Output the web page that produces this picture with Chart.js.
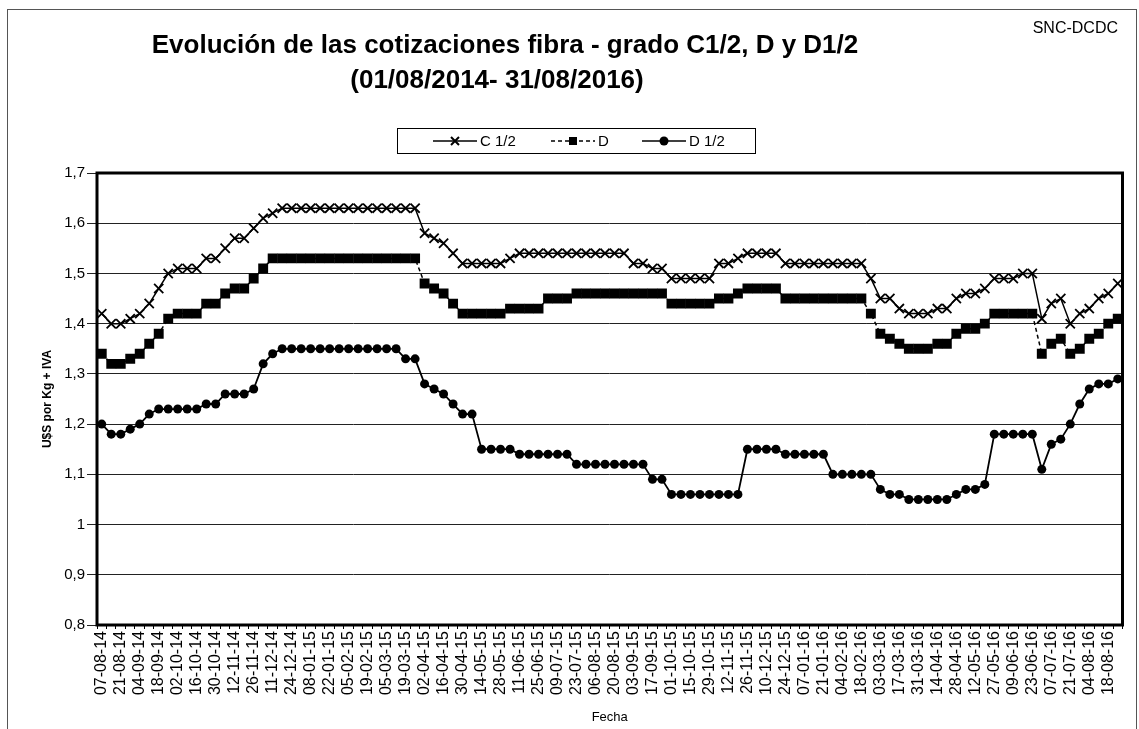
<!DOCTYPE html>
<html>
<head>
<meta charset="utf-8">
<script src="https://cdn.jsdelivr.net/npm/chart.js@4.4.1/dist/chart.umd.min.js"></script>
<style>
  html, body { margin: 0; padding: 0; background: #fff; }
  #wrap { width: 1139px; height: 729px; }
</style>
</head>
<body>
<div id="wrap"><canvas id="grafico" width="1139" height="729"></canvas></div>
<script>
// fechas semanales (se rotula una de cada dos)
const fechas = [
  '07-08-14','14-08-14','21-08-14','28-08-14','04-09-14','11-09-14','18-09-14','25-09-14',
  '02-10-14','09-10-14','16-10-14','23-10-14','30-10-14','06-11-14','12-11-14','19-11-14',
  '26-11-14','03-12-14','11-12-14','18-12-14','24-12-14','31-12-14','08-01-15','15-01-15',
  '22-01-15','29-01-15','05-02-15','12-02-15','19-02-15','26-02-15','05-03-15','12-03-15',
  '19-03-15','26-03-15','02-04-15','09-04-15','16-04-15','23-04-15','30-04-15','07-05-15',
  '14-05-15','21-05-15','28-05-15','04-06-15','11-06-15','18-06-15','25-06-15','02-07-15',
  '09-07-15','16-07-15','23-07-15','30-07-15','06-08-15','13-08-15','20-08-15','27-08-15',
  '03-09-15','10-09-15','17-09-15','24-09-15','01-10-15','08-10-15','15-10-15','22-10-15',
  '29-10-15','05-11-15','12-11-15','19-11-15','26-11-15','03-12-15','10-12-15','17-12-15',
  '24-12-15','31-12-15','07-01-16','14-01-16','21-01-16','28-01-16','04-02-16','11-02-16',
  '18-02-16','25-02-16','03-03-16','10-03-16','17-03-16','24-03-16','31-03-16','07-04-16',
  '14-04-16','21-04-16','28-04-16','05-05-16','12-05-16','19-05-16','27-05-16','02-06-16',
  '09-06-16','16-06-16','23-06-16','30-06-16','07-07-16','14-07-16','21-07-16','28-07-16',
  '04-08-16','11-08-16','18-08-16','25-08-16'
];

const c12 = [
  1.42,1.40,1.40,1.41,1.42,1.44,1.47,1.50,1.51,1.51,1.51,1.53,1.53,1.55,1.57,1.57,
  1.59,1.61,1.62,1.63,1.63,1.63,1.63,1.63,1.63,1.63,1.63,1.63,1.63,1.63,1.63,1.63,
  1.63,1.63,1.58,1.57,1.56,1.54,1.52,1.52,1.52,1.52,1.52,1.53,1.54,1.54,1.54,1.54,
  1.54,1.54,1.54,1.54,1.54,1.54,1.54,1.54,1.52,1.52,1.51,1.51,1.49,1.49,1.49,1.49,
  1.49,1.52,1.52,1.53,1.54,1.54,1.54,1.54,1.52,1.52,1.52,1.52,1.52,1.52,1.52,1.52,
  1.52,1.49,1.45,1.45,1.43,1.42,1.42,1.42,1.43,1.43,1.45,1.46,1.46,1.47,1.49,1.49,
  1.49,1.50,1.50,1.41,1.44,1.45,1.40,1.42,1.43,1.45,1.46,1.48
];

const gradoD = [
  1.34,1.32,1.32,1.33,1.34,1.36,1.38,1.41,1.42,1.42,1.42,1.44,1.44,1.46,1.47,1.47,
  1.49,1.51,1.53,1.53,1.53,1.53,1.53,1.53,1.53,1.53,1.53,1.53,1.53,1.53,1.53,1.53,
  1.53,1.53,1.48,1.47,1.46,1.44,1.42,1.42,1.42,1.42,1.42,1.43,1.43,1.43,1.43,1.45,
  1.45,1.45,1.46,1.46,1.46,1.46,1.46,1.46,1.46,1.46,1.46,1.46,1.44,1.44,1.44,1.44,
  1.44,1.45,1.45,1.46,1.47,1.47,1.47,1.47,1.45,1.45,1.45,1.45,1.45,1.45,1.45,1.45,
  1.45,1.42,1.38,1.37,1.36,1.35,1.35,1.35,1.36,1.36,1.38,1.39,1.39,1.40,1.42,1.42,
  1.42,1.42,1.42,1.34,1.36,1.37,1.34,1.35,1.37,1.38,1.40,1.41
];

const d12 = [
  1.20,1.18,1.18,1.19,1.20,1.22,1.23,1.23,1.23,1.23,1.23,1.24,1.24,1.26,1.26,1.26,
  1.27,1.32,1.34,1.35,1.35,1.35,1.35,1.35,1.35,1.35,1.35,1.35,1.35,1.35,1.35,1.35,
  1.33,1.33,1.28,1.27,1.26,1.24,1.22,1.22,1.15,1.15,1.15,1.15,1.14,1.14,1.14,1.14,
  1.14,1.14,1.12,1.12,1.12,1.12,1.12,1.12,1.12,1.12,1.09,1.09,1.06,1.06,1.06,1.06,
  1.06,1.06,1.06,1.06,1.15,1.15,1.15,1.15,1.14,1.14,1.14,1.14,1.14,1.10,1.10,1.10,
  1.10,1.10,1.07,1.06,1.06,1.05,1.05,1.05,1.05,1.05,1.06,1.07,1.07,1.08,1.18,1.18,
  1.18,1.18,1.18,1.11,1.16,1.17,1.20,1.24,1.27,1.28,1.28,1.29
];

const titulo = 'Evolución de las cotizaciones fibra - grado C1/2, D y D1/2';
const subtitulo = '(01/08/2014- 31/08/2016)';
const fuente = 'SNC-DCDC';
const FONT = "'Liberation Sans', Arial, sans-serif";

function marca(ctx, tipo, x, y) {
  ctx.save();
  ctx.fillStyle = '#000';
  ctx.strokeStyle = '#000';
  ctx.setLineDash([]);
  if (tipo === 'crossRot') {
    ctx.lineWidth = 2;
    ctx.beginPath();
    ctx.moveTo(x - 4, y - 4); ctx.lineTo(x + 4, y + 4);
    ctx.moveTo(x + 4, y - 4); ctx.lineTo(x - 4, y + 4);
    ctx.stroke();
  } else if (tipo === 'rect') {
    ctx.fillRect(x - 4, y - 4, 8, 8);
  } else {
    ctx.beginPath();
    ctx.arc(x, y, 4.5, 0, Math.PI * 2);
    ctx.fill();
  }
  ctx.restore();
}

const encabezado = {
  id: 'encabezado',
  beforeDatasetsDraw(chart) {
    const ctx = chart.ctx, a = chart.chartArea;
    ctx.save();
    ctx.strokeStyle = '#000';
    ctx.lineWidth = 3;
    ctx.strokeRect(a.left, a.top, a.right - a.left, a.bottom - a.top);
    ctx.restore();
  },
  afterDraw(chart) {
    const ctx = chart.ctx;
    ctx.save();
    // marco exterior
    ctx.strokeStyle = '#555';
    ctx.lineWidth = 1;
    ctx.strokeRect(7.5, 9.5, 1129, 740);

    ctx.fillStyle = '#000';
    ctx.textBaseline = 'middle';
    ctx.textAlign = 'center';
    ctx.font = 'bold 26px ' + FONT;
    ctx.fillText(titulo, 505, 46);
    ctx.fillText(subtitulo, 497, 81);

    ctx.textAlign = 'right';
    ctx.font = '16px ' + FONT;
    ctx.fillText(fuente, 1118, 29);

    // leyenda
    ctx.strokeStyle = '#000';
    ctx.lineWidth = 1;
    ctx.strokeRect(397.5, 128.5, 358, 25);
    const xs = [433, 551, 642];
    const yc = 141;
    ctx.font = '15px ' + FONT;
    ctx.textAlign = 'left';
    chart.data.datasets.forEach((ds, i) => {
      const x0 = xs[i];
      ctx.save();
      ctx.lineWidth = 1.5;
      ctx.setLineDash(ds.borderDash || []);
      ctx.beginPath();
      ctx.moveTo(x0, yc);
      ctx.lineTo(x0 + 44, yc);
      ctx.stroke();
      ctx.restore();
      marca(ctx, ds.pointStyle, x0 + 22, yc);
      ctx.fillText(ds.label, x0 + 47, yc + 1);
    });
    ctx.restore();
  }
};

new Chart(document.getElementById('grafico'), {
  type: 'line',
  data: {
    labels: fechas,
    datasets: [
      {
        label: 'C 1/2',
        data: c12,
        borderColor: '#000',
        backgroundColor: '#000',
        borderWidth: 1.5,
        pointStyle: 'crossRot',
        pointRadius: 6.5,
        pointBorderWidth: 1.8,
        pointBorderColor: '#000',
        tension: 0
      },
      {
        label: 'D',
        data: gradoD,
        borderColor: '#000',
        backgroundColor: '#000',
        borderWidth: 1.5,
        borderDash: [4, 3],
        pointStyle: 'rect',
        pointRadius: 7,
        pointBorderWidth: 0,
        pointBackgroundColor: '#000',
        tension: 0
      },
      {
        label: 'D 1/2',
        data: d12,
        borderColor: '#000',
        backgroundColor: '#000',
        borderWidth: 1.8,
        pointStyle: 'circle',
        pointRadius: 4.5,
        pointBorderWidth: 0,
        pointBackgroundColor: '#000',
        tension: 0
      }
    ]
  },
  options: {
    responsive: false,
    devicePixelRatio: 1,
    animation: false,
    layout: { padding: { top: 173, left: 8, right: 11, bottom: 4 } },
    plugins: {
      legend: { display: false },
      tooltip: { enabled: false }
    },
    scales: {
      x: {
        offset: true,
        afterFit(s) { s.height = 100; },
        grid: { display: true, drawOnChartArea: false, drawTicks: true, tickLength: 4, color: '#000', offset: true },
        border: { display: false },
        ticks: {
          autoSkip: false,
          maxRotation: 90,
          minRotation: 90,
          padding: 2,
          color: '#000',
          font: { family: FONT, size: 16 },
          callback(v, i) { return i % 2 === 0 ? fechas[i] : ''; }
        },
        title: {
          display: true,
          text: 'Fecha',
          color: '#000',
          font: { family: FONT, size: 13 },
          padding: { top: 0, bottom: 0 }
        }
      },
      y: {
        min: 0.8,
        max: 1.7,
        afterFit(s) { s.width = 89; },
        grid: { color: '#222', lineWidth: 1, tickLength: 10, drawTicks: true },
        border: { display: false },
        ticks: {
          stepSize: 0.1,
          padding: 2,
          color: '#000',
          font: { family: FONT, size: 15 },
          callback(v) { return (Math.round(v * 10) / 10).toString().replace('.', ','); }
        },
        title: {
          display: true,
          text: 'U$S por Kg + IVA',
          color: '#000',
          font: { family: FONT, size: 12, weight: 'bold' },
          padding: { top: 32, bottom: 0 }
        }
      }
    }
  },
  plugins: [encabezado]
});
</script>
</body>
</html>
